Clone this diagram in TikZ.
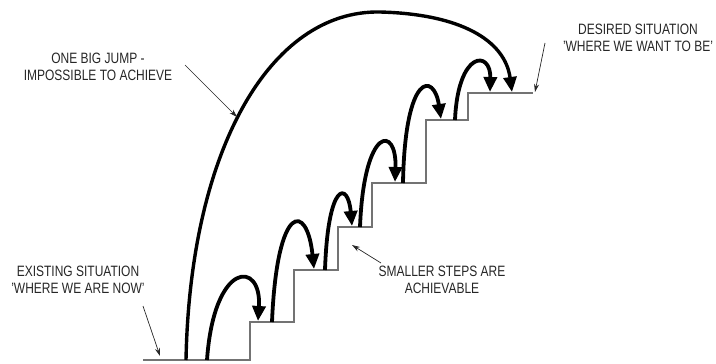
\documentclass[tikz,border=0pt]{standalone}
\usepackage{fontspec}
\setmainfont{Liberation Sans}[FakeStretch=0.8]
\usetikzlibrary{arrows.meta}
\tikzset{
  stairs/.style={draw=black!55, line width=1.2pt},
  hop/.style={draw=black, line width=3.8pt, -{Triangle[length=15pt,width=13pt]}},
  bigjump/.style={draw=black, line width=3.4pt, -{Triangle[length=15pt,width=13pt]}},
  pointer/.style={draw=black!85, line width=0.7pt, -{Stealth[length=8pt,width=5pt]}},
  label/.style={text=black!85, align=center, inner sep=0pt, font=\fontsize{15}{17}\selectfont}
}
\begin{document}
\begin{tikzpicture}[x=1pt,y=-1pt]
\useasboundingbox (0,0) rectangle (716,364);
% staircase
\draw[stairs] (143,360) -- (250,360) -- (250,322) -- (294,322) -- (294,270) -- (338,270)
  -- (338,227) -- (372,227) -- (372,183) -- (426,183) -- (426,120) -- (468,120)
  -- (468,93) -- (533,93);
% named jump points
\coordinate (s0) at (207,360); \coordinate (t1) at (258,321);
\coordinate (s1) at (272,322); \coordinate (t2) at (314,269);
\coordinate (s2) at (325,270); \coordinate (t3) at (352,226);
\coordinate (s3) at (360,227); \coordinate (t4) at (395,182);
\coordinate (s4) at (403,183); \coordinate (t5) at (441,119);
\coordinate (s5) at (455,120); \coordinate (t6) at (490,92);
\coordinate (bigstart) at (186,360); \coordinate (bigtop) at (380,12); \coordinate (bigend) at (512,92);
% small jumps
\draw[hop] (s0) .. controls (214,260) and (262,260) .. (t1);
\draw[hop] (s1) .. controls (277,202) and (307,202) .. (t2);
\draw[hop] (s2) .. controls (328,181) and (348,181) .. (t3);
\draw[hop] (s3) .. controls (364,125) and (397,125) .. (t4);
\draw[hop] (s4) .. controls (405,72) and (434,72) .. (t5);
\draw[hop] (s5) .. controls (458,50) and (491,50) .. (t6);
% big jump
\draw[bigjump] (bigstart) .. controls (190,150) and (270,10) .. (bigtop)
  .. controls (460,14) and (505,40) .. (bigend);
% labels
\node[label] (existing) at (78,280) {EXISTING SITUATION\\'WHERE WE ARE NOW'};
\node[label] (bigjumplabel) at (98,67) {ONE BIG JUMP -\\IMPOSSIBLE TO ACHIEVE};
\node[label] (desired) at (638,38) {DESIRED SITUATION\\'WHERE WE WANT TO BE'};
\node[label] (smaller) at (442,280) {SMALLER STEPS ARE\\ACHIEVABLE};
% pointers
\coordinate (p1s) at (143,306); \coordinate (p1e) at (160,356);
\coordinate (p2s) at (185,65);  \coordinate (p2e) at (237,117);
\coordinate (p3s) at (545,43);  \coordinate (p3e) at (535,92);
\coordinate (p4s) at (381,263); \coordinate (p4e) at (352,245);
\draw[pointer] (p1s) -- (p1e);
\draw[pointer] (p2s) -- (p2e);
\draw[pointer] (p3s) -- (p3e);
\draw[pointer] (p4s) -- (p4e);
\end{tikzpicture}
\end{document}
